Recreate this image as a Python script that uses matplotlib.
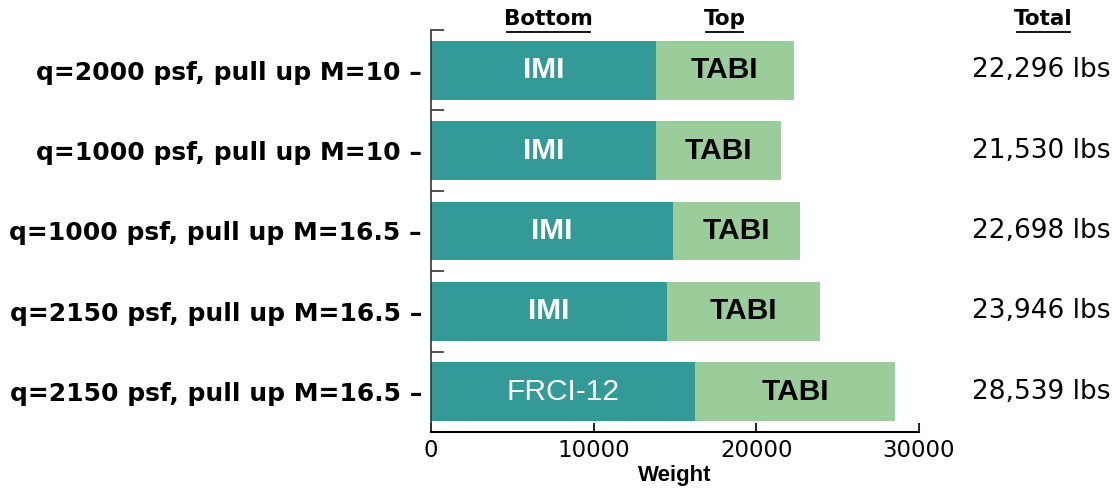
import numpy as np
import matplotlib.pyplot as plt
import matplotlib.transforms as mtransforms

# data
cases = ['q=2000 psf, pull up M=10', 'q=1000 psf, pull up M=10',
         'q=1000 psf, pull up M=16.5', 'q=2150 psf, pull up M=16.5',
         'q=2150 psf, pull up M=16.5']
bottom_names = ['IMI', 'IMI', 'IMI', 'IMI', 'FRCI-12']
top_names = ['TABI', 'TABI', 'TABI', 'TABI', 'TABI']
bottom_w = [13830, 13830, 14890, 14500, 16250]
total_w = [22296, 21530, 22698, 23946, 28539]
top_w = [t - b for t, b in zip(total_w, bottom_w)]

teal = '#349a98'
green = '#9bcd9a'

fig = plt.figure(figsize=(11.15, 4.9), dpi=100)
ax = fig.add_axes([0.3865, 0.1184, 0.4377, 0.8204])

y = np.arange(len(cases))
ax.barh(y, bottom_w, height=0.73, color=teal)
ax.barh(y, top_w, left=bottom_w, height=0.73, color=green)

# x in figure coords, y in data coords for the totals column
tr = mtransforms.blended_transform_factory(fig.transFigure, ax.transData)
for i in range(len(cases)):
    ax.text(bottom_w[i] / 2, i, bottom_names[i], color='white', ha='center', va='center',
            fontsize=21.5, family='Liberation Sans',
            fontweight='normal' if bottom_names[i] == 'FRCI-12' else 'bold')
    ax.text(bottom_w[i] + top_w[i] / 2, i, top_names[i], color='black', ha='center',
            va='center', fontsize=21.5, family='Liberation Sans', fontweight='bold')
    ax.text(1111 / 1115, i, f'{total_w[i]:,} lbs', transform=tr,
            ha='right', va='center', fontsize=19, family='DejaVu Sans')

# column headers
hdr = dict(ha='center', va='center', fontsize=15.5, family='DejaVu Sans', fontweight='bold')
fig.text(548 / 1115, 1 - 19 / 490, 'Bottom', **hdr)
fig.text(725 / 1115, 1 - 19 / 490, 'Top', **hdr)
fig.text(1043 / 1115, 1 - 19 / 490, 'Total', **hdr)
for x0, x1 in [(507, 590), (706, 743), (1017, 1070)]:
    fig.add_artist(plt.Line2D([x0 / 1115, x1 / 1115], [1 - 32 / 490] * 2,
                              color='black', lw=1.3))

ax.set_xlim(0, 30000)
ax.set_ylim(4.5, -0.5)
ax.set_xticks([0, 10000, 20000, 30000])
ax.set_xticklabels(['0', '10000', '20000', '30000'], fontsize=16.5, family='DejaVu Sans')
ax.set_yticks(y)
ax.set_yticklabels([c + ' \u2013' for c in cases], fontsize=18,
                   family='DejaVu Sans', fontweight='bold')
ax.set_yticks(np.arange(-0.5, 5, 1), minor=True)
ax.tick_params(axis='y', which='major', length=0, pad=6.5)
ax.tick_params(axis='y', which='minor', direction='in', length=9.5, width=1.2, color='#333333')
ax.tick_params(axis='x', direction='in', length=6.5, width=1.2, pad=5)
ax.set_xlabel('Weight', fontsize=16, family='Liberation Sans', fontweight='bold', labelpad=2)
for s in ['top', 'right']:
    ax.spines[s].set_visible(False)
ax.spines['left'].set_color('#333333')
ax.spines['left'].set_linewidth(1.2)
ax.spines['bottom'].set_linewidth(1.5)

fig.savefig('out.png', dpi=100)
